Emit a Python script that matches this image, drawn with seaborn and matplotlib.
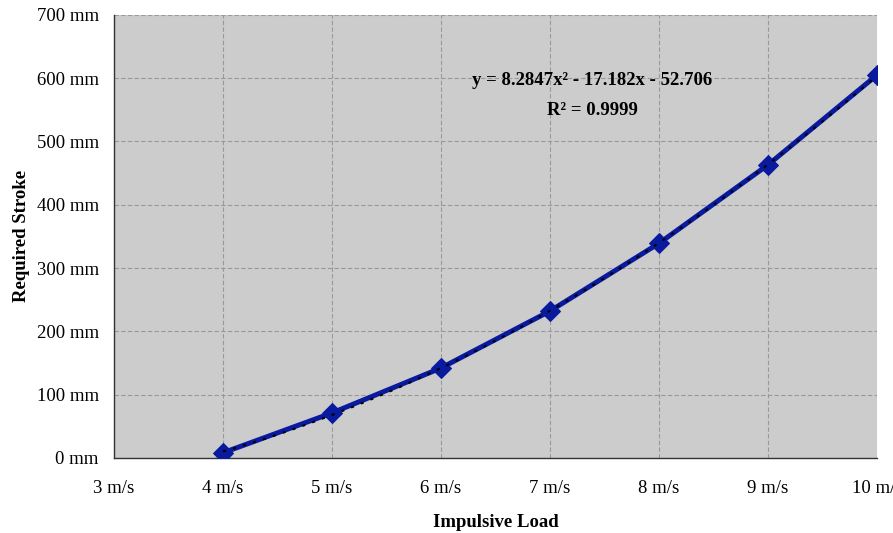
import numpy as np
import pandas as pd
import matplotlib
matplotlib.use("Agg")
import matplotlib.pyplot as plt
import seaborn as sns

# values
speed = [4, 5, 6, 7, 8, 9, 10]
stroke = [8, 71, 142, 232, 339, 463, 605]
x_ticks = [3, 4, 5, 6, 7, 8, 9, 10]
y_ticks = [0, 100, 200, 300, 400, 500, 600, 700]

df = pd.DataFrame({"speed": speed, "stroke": stroke})

sns.set_style("white")
plt.rcParams["font.family"] = ["Liberation Serif", "DejaVu Serif"]
plt.rcParams["text.color"] = "black"
plt.rcParams["axes.labelcolor"] = "black"
plt.rcParams["xtick.labelcolor"] = "black"
plt.rcParams["ytick.labelcolor"] = "black"

fig, ax = plt.subplots(figsize=(8.93, 5.33), dpi=100)
fig.subplots_adjust(left=0.1277, right=0.982, top=0.972, bottom=0.141)
ax.set_facecolor("#cccccc")

# data series
sns.lineplot(data=df, x="speed", y="stroke", ax=ax, color="#0a1a9e",
             linewidth=3.6, marker="D", markersize=10, markeredgecolor="#0a1a9e",
             zorder=3)

# polynomial trendline (order 2), black dashed on top
sns.regplot(data=df, x="speed", y="stroke", ax=ax, order=2, ci=None,
            scatter=False, line_kws={"color": "black", "linestyle": (0, (1.5, 3.5)),
                                     "linewidth": 1.5, "zorder": 4})

ax.set_xlim(3, 10)
ax.set_ylim(0, 700)
ax.set_xticks(x_ticks)
ax.set_xticklabels([f"{t} m/s" for t in x_ticks])
ax.set_yticks(y_ticks)
ax.set_yticklabels([f"{t} mm" for t in y_ticks])

ax.grid(True, color="#999999", linestyle=(0, (4, 2)), linewidth=0.8)
ax.set_axisbelow(True)

for side in ["top", "right"]:
    ax.spines[side].set_visible(False)
for side in ["left", "bottom"]:
    ax.spines[side].set_color("#333333")
    ax.spines[side].set_linewidth(1.0)

ax.tick_params(axis="both", direction="out", length=5, width=1, color="#333333",
               labelsize=13.5, pad=6)
ax.tick_params(axis="x", pad=11)
for lab in ax.get_xticklabels():
    lab.set_clip_on(False)

ax.set_xlabel("Impulsive Load", fontsize=13.5, fontweight="bold", labelpad=12)
ax.set_ylabel("Required Stroke", fontsize=13.5, fontweight="bold", labelpad=5)

ax.text(0.627, 0.853, "y = 8.2847x² - 17.182x - 52.706", transform=ax.transAxes,
        ha="center", va="center", fontsize=13.5, fontweight="bold")
ax.text(0.627, 0.785, "R² = 0.9999", transform=ax.transAxes,
        ha="center", va="center", fontsize=13.5, fontweight="bold")

fig.savefig("out.png", dpi=100)
